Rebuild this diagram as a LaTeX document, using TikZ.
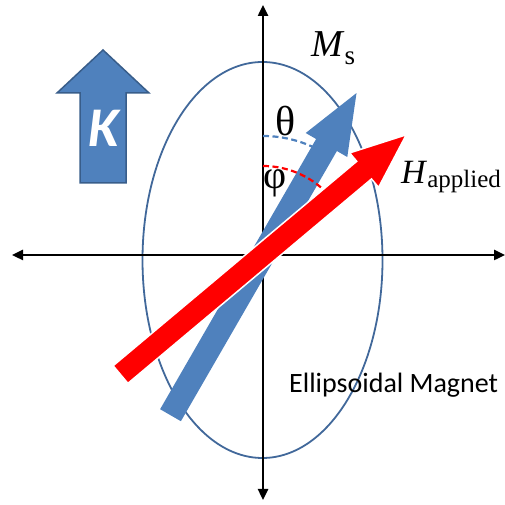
\documentclass[tikz,border=0pt]{standalone}
\usepackage{fontspec}
\setmainfont{Liberation Serif}
\newfontfamily\calib{Carlito}
\usetikzlibrary{arrows.meta}
\definecolor{mblue}{HTML}{4F81BD}
\definecolor{eblue}{HTML}{41689A}
\definecolor{bdark}{HTML}{385D8A}
\definecolor{mred}{HTML}{FF0000}
\tikzset{
  axis/.style={line width=2.4pt,-{Triangle[length=11pt,width=10pt]}},
  arcdash/.style={line width=2.2pt,dash pattern=on 6pt off 3.5pt},
  lbl/.style={inner sep=0pt,font=\fontsize{34}{34}\selectfont},
}
\begin{document}
\begin{tikzpicture}[x=1pt,y=1pt]
\useasboundingbox (0,0) rectangle (505,505);
\coordinate (O) at (263,250);
\coordinate (L) at (12,250);
\coordinate (R) at (505,250);
\coordinate (T) at (263,500);
\coordinate (B) at (263,5);
% ellipse
\draw[eblue,line width=1.8pt] (262.5,245) ellipse [x radius=120,y radius=198];
% axes
\draw[axis] (O) -- (L);
\draw[axis] (O) -- (R);
\draw[axis] (O) -- (T);
\draw[axis] (O) -- (B);
% theta arc
\draw[mblue,arcdash] ([shift={(90:119)}]O) arc[start angle=90,end angle=60,radius=119];
% blue arrow (Ms)
\begin{scope}[shift={(O)},rotate=60]
\fill[mblue] (-185,-12) -- (127,-12) -- (127,-24) -- (187,0) -- (127,24) -- (127,12) -- (-185,12) -- cycle;
\end{scope}
% phi arc
\draw[mred,arcdash] ([shift={(90:89)}]O) arc[start angle=90,end angle=40,radius=89];
% red arrow (H)
\begin{scope}[shift={(O)},rotate=40]
\filldraw[mred,draw=white,line width=1.5pt] (-186,-11.5) -- (132,-11.5) -- (132,-22.5) -- (187,0) -- (132,22.5) -- (132,11.5) -- (-186,11.5) -- cycle;
\end{scope}
% K arrow
\filldraw[fill=mblue,draw=bdark,line width=1.5pt] (80,322) -- (126,322) -- (126,412) -- (149,412) -- (103,455) -- (57,412) -- (80,412) -- cycle;
\node[text=white,font=\calib\bfseries\itshape\fontsize{56}{56}\selectfont,inner sep=0pt] (k) at (104,377) {K};
% labels
\node[lbl,anchor=base west,font=\fontsize{38}{38}\selectfont] (ms) at (311,448) {\textit{M}\fontsize{27}{27}\selectfont\raisebox{-8pt}{s}};
\node[lbl,anchor=base west] (h) at (401,321) {\textit{H}\fontsize{25}{25}\selectfont\raisebox{-4pt}{applied}};
\node[lbl,font=\fontsize{42}{42}\selectfont] (th) at (286,384) {θ};
\node[lbl,font=\fontsize{40}{40}\selectfont] (ph) at (275,322) {φ};
\node[inner sep=0pt,anchor=base west,font=\calib\fontsize{28}{28}\selectfont] (em) at (289,112) {Ellipsoidal Magnet};
\end{tikzpicture}
\end{document}
